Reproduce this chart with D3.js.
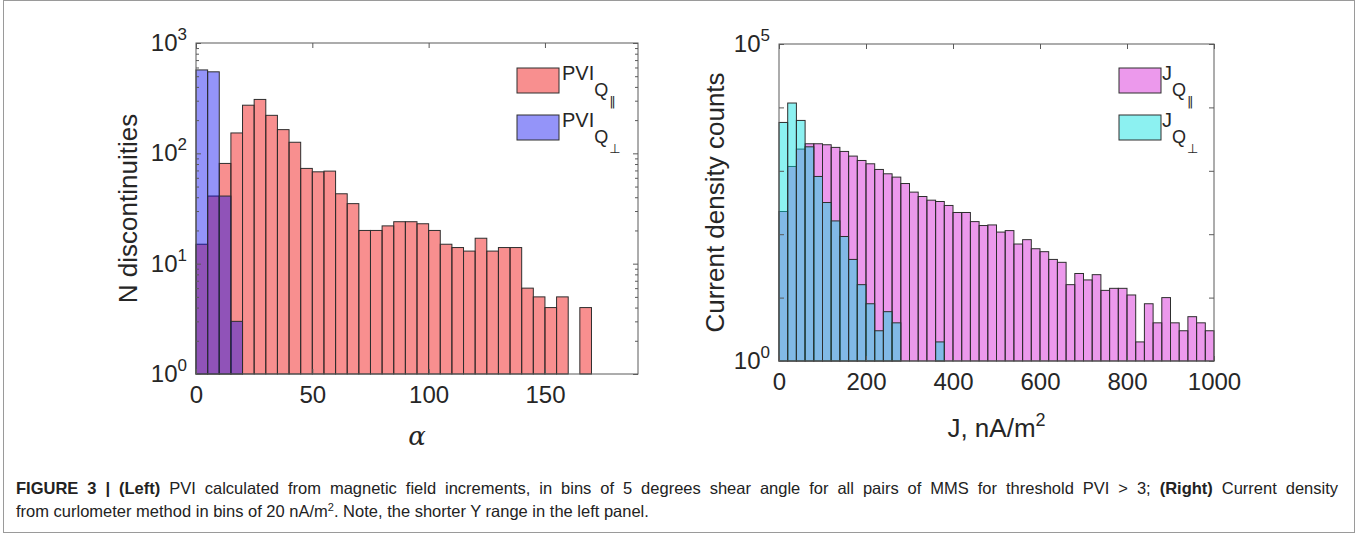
<!DOCTYPE html>
<html>
<head>
<meta charset="utf-8">
<script src="https://cdn.jsdelivr.net/npm/d3@7"></script>
<style>
body { margin: 0; background: #fff; }
svg text { font-family: "Liberation Sans", Arial, sans-serif; fill: #262626; }
</style>
</head>
<body>
<svg id="fig" width="1358" height="534"></svg>
<script>
// bin widths of the two histograms
var alphaBinWidth = 5;    // degrees
var jBinWidth = 20;       // nA/m^2

// left panel: counts per 5 degree shear-angle bin, starting at 0
var pviPar = [15, 41, 81, 153, 273, 308, 221, 164, 126, 73, 68, 69, 43, 35, 20, 20, 22, 24,
              24, 23, 20, 15, 14, 13, 17, 13, 14, 14, 6, 5, 4, 5, 0, 4];
var pviPerp = [570, 548, 41, 3];

// right panel: counts per 20 nA/m^2 bin, starting at 0
var jPar = [228, 1170, 2200, 2670, 2670, 2575, 2340, 2020, 1706, 1455, 1290, 1050, 897, 795,
            630, 461, 393, 344, 328, 284, 220, 220, 158, 137, 140, 108, 114, 70, 82, 59,
            53, 40, 36, 16, 24, 19, 23, 13, 14, 14, 11, 2, 8, 4, 10, 4, 3, 5, 4, 3];
var jPerp = [5790, 11720, 6230, 2390, 814, 316, 162, 92, 40, 16, 8, 3, 6, 4, 0, 0, 0, 0, 2];

var alphaTicks = [0, 50, 100, 150];
var jTicks = [0, 200, 400, 600, 800, 1000];
var leftDecades = [1, 10, 100, 1000];
var rightDecades = [1, 10, 100, 1000, 10000, 100000];

var svg = d3.select("#fig");

// frame of the figure and caption
svg.append("rect")
    .attr("x", 3.5).attr("y", 0.5)
    .attr("width", 1351).attr("height", 532)
    .attr("fill", "none").attr("stroke", "#9a9a9a");

drawPanel({
    left: 196, right: 638, top: 43, bottom: 374,
    xDomain: [0, 190], yDomain: [1, 1000],
    binWidth: alphaBinWidth,
    xTicks: alphaTicks, decades: leftDecades, minorTicks: true,
    yLabels: [1, 10, 100, 1000],
    series: [
        { values: pviPar, color: "#f00000", opacity: 0.44, name: "PVI", sub: "Q", subsub: "\u2016" },
        { values: pviPerp, color: "#0000f0", opacity: 0.42, name: "PVI", sub: "Q", subsub: "\u22A5" }
    ],
    legendX: 517, legendTextX: 562,
    yTitle: "N discontinuities", yTitleX: 128,
    xTitle: "\u03B1", xTitleSerif: true, xTitleGap: 71
});

drawPanel({
    left: 779, right: 1214, top: 44, bottom: 361,
    xDomain: [0, 1000], yDomain: [1, 100000],
    binWidth: jBinWidth,
    xTicks: jTicks, decades: rightDecades, minorTicks: false,
    yLabels: [1, 100000],
    series: [
        { values: jPar, color: "#d000d0", opacity: 0.4, name: "J", sub: "Q", subsub: "\u2016" },
        { values: jPerp, color: "#00e0e0", opacity: 0.45, name: "J", sub: "Q", subsub: "\u22A5" }
    ],
    legendX: 1119, legendTextX: 1162,
    yTitle: "Current density counts", yTitleX: 715,
    xTitle: "J, nA/m", xTitleSup: "2", xTitleGap: 76
});

function drawPanel(p) {
    var g = svg.append("g");
    var x = d3.scaleLinear().domain(p.xDomain).range([p.left, p.right]);
    var y = d3.scaleLog().domain(p.yDomain).range([p.bottom, p.top]);
    var base = y(p.yDomain[0]);

    // histogram bars, first series underneath
    p.series.forEach(function (s) {
        var bins = s.values.map(function (v, i) { return { i: i, v: v }; })
            .filter(function (d) { return d.v > 0; });
        g.append("g").selectAll("rect")
            .data(bins)
            .enter()
            .append("rect")
            .attr("x", function (d) { return x(d.i * p.binWidth); })
            .attr("width", function (d) { return x((d.i + 1) * p.binWidth) - x(d.i * p.binWidth); })
            .attr("y", function (d) { return y(d.v); })
            .attr("height", function (d) { return base - y(d.v); })
            .attr("fill", s.color)
            .attr("fill-opacity", s.opacity)
            .attr("stroke", "#2e2e2e")
            .attr("stroke-width", 1);
    });

    // box with inward ticks on all four sides
    g.append("rect")
        .attr("x", p.left).attr("y", p.top)
        .attr("width", p.right - p.left).attr("height", p.bottom - p.top)
        .attr("fill", "none").attr("stroke", "#5a5a5a");

    var xb = g.append("g").attr("transform", "translate(0," + p.bottom + ")")
        .call(d3.axisBottom(x).tickValues(p.xTicks).tickSizeInner(-5).tickSizeOuter(0)
            .tickPadding(12).tickFormat(d3.format("d")));
    g.append("g").attr("transform", "translate(0," + p.top + ")")
        .call(d3.axisTop(x).tickValues(p.xTicks).tickSizeInner(-5).tickSizeOuter(0).tickFormat(""));

    g.append("g").attr("transform", "translate(" + p.left + ",0)")
        .call(d3.axisLeft(y).tickValues(p.decades).tickSizeInner(-5).tickSizeOuter(0).tickFormat(""));
    g.append("g").attr("transform", "translate(" + p.right + ",0)")
        .call(d3.axisRight(y).tickValues(p.decades).tickSizeInner(-5).tickSizeOuter(0).tickFormat(""));

    if (p.minorTicks) {
        var minor = [];
        p.decades.slice(0, -1).forEach(function (d) {
            for (var k = 2; k < 10; k++) minor.push(d * k);
        });
        g.append("g").attr("transform", "translate(" + p.left + ",0)")
            .call(d3.axisLeft(y).tickValues(minor).tickSizeInner(-3).tickSizeOuter(0).tickFormat(""));
        g.append("g").attr("transform", "translate(" + p.right + ",0)")
            .call(d3.axisRight(y).tickValues(minor).tickSizeInner(-3).tickSizeOuter(0).tickFormat(""));
    }

    g.selectAll(".domain").remove();
    g.selectAll(".tick line").attr("stroke", "#5a5a5a");
    xb.selectAll("text").attr("font-size", 24).attr("fill", "#262626")
        .attr("font-family", "Liberation Sans, Arial, sans-serif");

    // y tick labels as powers of ten
    p.yLabels.forEach(function (v) {
        var t = g.append("text")
            .attr("x", p.left - 9)
            .attr("y", y(v) + 8)
            .attr("text-anchor", "end")
            .attr("font-size", 24);
        t.append("tspan").text("10");
        t.append("tspan").attr("dy", -11).attr("font-size", 17).text(Math.round(Math.log10(v)));
    });

    // axis titles
    g.append("text")
        .attr("transform", "translate(" + p.yTitleX + "," + ((p.top + p.bottom) / 2) + ") rotate(-90)")
        .attr("text-anchor", "middle")
        .attr("dy", "0.35em")
        .attr("font-size", 26)
        .text(p.yTitle);

    var xt2 = g.append("text")
        .attr("x", (p.left + p.right) / 2)
        .attr("y", p.bottom + p.xTitleGap)
        .attr("text-anchor", "middle")
        .attr("font-size", 26);
    if (p.xTitleSerif) xt2.style("font-family", "'DejaVu Serif', serif").style("font-style", "italic");
    xt2.append("tspan").text(p.xTitle);
    if (p.xTitleSup) xt2.append("tspan").attr("dy", -11).attr("font-size", 18).text(p.xTitleSup);

    // legend
    p.series.forEach(function (s, i) {
        var ly = 68 + i * 47;
        g.append("rect")
            .attr("x", p.legendX).attr("y", ly)
            .attr("width", 42).attr("height", 25)
            .attr("fill", s.color).attr("fill-opacity", s.opacity)
            .attr("stroke", "#2e2e2e");
        var t = g.append("text")
            .attr("x", p.legendTextX)
            .attr("y", ly + 12)
            .attr("font-size", 20);
        t.append("tspan").text(s.name);
        t.append("tspan").attr("dy", 16).attr("font-size", 18).text(s.sub);
        t.append("tspan").attr("dy", 10).attr("dx", 1).attr("font-size", 13)
            .style("font-family", "'DejaVu Sans', sans-serif").text(s.subsub);
    });
}

// caption, first line justified to the frame width
var cap = svg.append("g");
var l1 = cap.append("text").attr("x", 16).attr("y", 494).attr("font-size", 16.5).style("fill", "#222");
l1.append("tspan").attr("font-weight", "bold").text("FIGURE 3 | (Left)");
l1.append("tspan").text(" PVI calculated from magnetic field increments, in bins of 5 degrees shear angle for all pairs of MMS for threshold PVI > 3; ");
l1.append("tspan").attr("font-weight", "bold").text("(Right)");
l1.append("tspan").text(" Current density");
var natural = l1.node().getComputedTextLength();
var spaces = l1.text().split(" ").length - 1;
l1.attr("word-spacing", Math.max(0, (1322 - natural) / spaces));

var l2 = cap.append("text").attr("x", 16).attr("y", 517).attr("font-size", 16.5).style("fill", "#222");
l2.append("tspan").text("from curlometer method in bins of 20 nA/m");
l2.append("tspan").attr("dy", -6).attr("font-size", 11).text("2");
l2.append("tspan").attr("dy", 6).text(". Note, the shorter Y range in the left panel.");
</script>
</body>
</html>
